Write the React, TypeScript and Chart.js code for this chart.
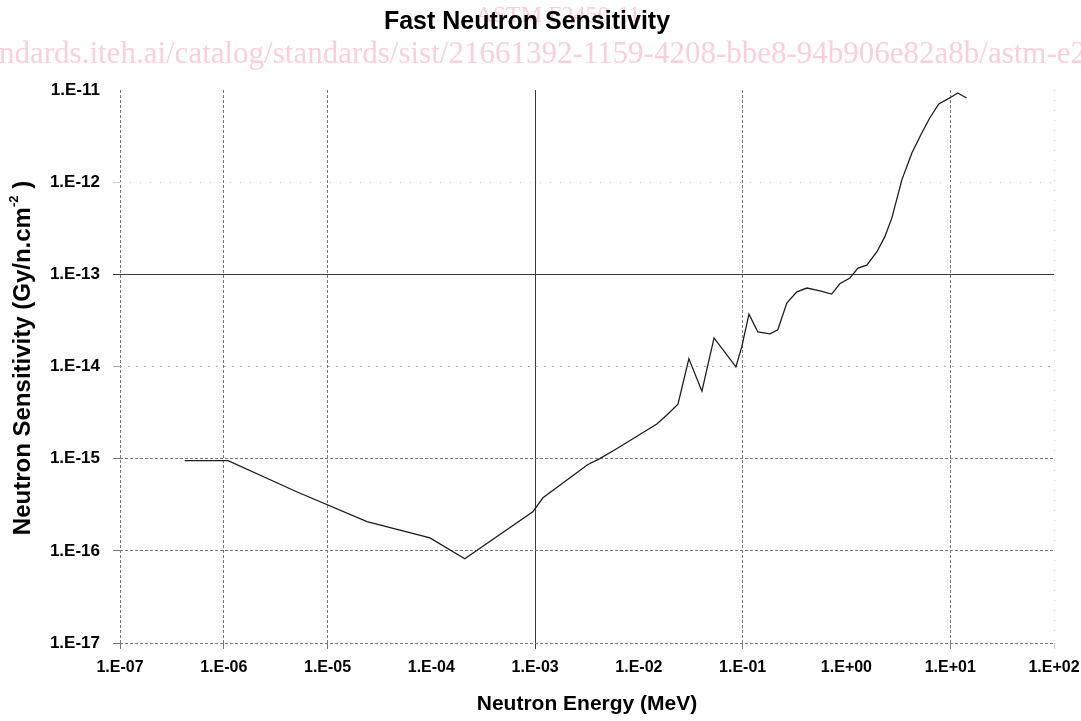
import React, { useEffect, useRef } from "react";
import { Chart, registerables } from "chart.js";

Chart.register(...registerables);

// ---- data ----
const energyMeV = [
  4.2e-7, 1.1e-6, 5.1e-6, 2.4e-5, 9.7e-5, 2.1e-4, 9.5e-4, 1.19e-3, 3.2e-3, 4.2e-3,
  6.1e-3, 1.49e-2, 1.86e-2, 2.38e-2, 3.03e-2, 4.05e-2, 5.3e-2, 8.6e-2, 0.098, 0.115,
  0.14, 0.183, 0.218, 0.267, 0.333, 0.416, 0.555, 0.72, 0.863, 1.08,
  1.29, 1.57, 1.96, 2.34, 2.74, 3.42, 4.27, 5.32, 6.35, 7.76,
  9.9, 11.8, 14.4,
];
const sensitivity = [
  9.5e-16, 9.5e-16, 4.35e-16, 2.07e-16, 1.38e-16, 8.2e-17, 2.65e-16, 3.76e-16, 8.6e-16, 1.0e-15,
  1.28e-15, 2.38e-15, 2.98e-15, 3.9e-15, 1.21e-14, 5.4e-15, 2.04e-14, 9.9e-15, 1.63e-14, 3.7e-14,
  2.37e-14, 2.26e-14, 2.5e-14, 4.9e-14, 6.46e-14, 7.1e-14, 6.6e-14, 6.1e-14, 7.9e-14, 9.1e-14,
  1.17e-13, 1.26e-13, 1.75e-13, 2.55e-13, 4.1e-13, 1.06e-12, 2.07e-12, 3.42e-12, 4.97e-12, 7.05e-12,
  8.2e-12, 9.3e-12, 8.2e-12,
];
const xTickValues = [1e-7, 1e-6, 1e-5, 1e-4, 1e-3, 1e-2, 1e-1, 1e0, 1e1, 1e2];
const yTickValues = [1e-17, 1e-16, 1e-15, 1e-14, 1e-13, 1e-12, 1e-11];

const chartTitle = "Fast Neutron Sensitivity";
const xTitle = "Neutron Energy (MeV)";
const yTitleMain = "Neutron Sensitivity (Gy/n.cm";
const yTitleSup = "-2";
const yTitleEnd = " )";
const watermarkTop = "ASTM F2450-11";
const watermarkUrl =
  "ndards.iteh.ai/catalog/standards/sist/21661392-1159-4208-bbe8-94b906e82a8b/astm-e2450-11";

// ---- styling ----
const SANS = "'Liberation Sans', Arial, sans-serif";
const SERIF = "'Liberation Serif', 'Times New Roman', serif";

const xGridKind: Record<number, string> = { [-7]: "dot", [-6]: "dot", [-5]: "dot", [-3]: "solid", [-1]: "dot", 1: "dot", 2: "faint" };
const yGridKind: Record<number, string> = { [-17]: "dot", [-16]: "dot", [-15]: "dot", [-14]: "sparse", [-13]: "solid", [-12]: "faint" };

const kindStyle: Record<string, { color: string; dash: number[] }> = {
  dot: { color: "#777777", dash: [3, 2] },
  sparse: { color: "#a8a8a8", dash: [2, 6] },
  faint: { color: "#cccccc", dash: [1, 9] },
  solid: { color: "#3a3a3a", dash: [] },
  none: { color: "rgba(0,0,0,0)", dash: [] },
};

const expOf = (v: number) => Math.round(Math.log10(v));
const fmt = (v: number) => {
  const e = expOf(v);
  return `1.E${e < 0 ? "-" : "+"}${String(Math.abs(e)).padStart(2, "0")}`;
};
const styleFor = (map: Record<number, string>, ctx: any) => {
  const v = ctx && ctx.tick ? ctx.tick.value : undefined;
  if (v === undefined) return kindStyle.none;
  return kindStyle[map[expOf(v)] || "none"];
};

const watermarkPlugin = {
  id: "watermark",
  beforeDraw(chart: any) {
    const ctx = chart.ctx;
    ctx.save();
    ctx.fillStyle = "#f7d0dc";
    ctx.textBaseline = "alphabetic";
    ctx.font = `31px ${SERIF}`;
    ctx.textAlign = "left";
    ctx.fillText(watermarkUrl, -1, 63);
    ctx.font = `24px ${SERIF}`;
    ctx.textAlign = "center";
    ctx.fillText(watermarkTop, 558, 22);
    ctx.restore();
  },
};

const yTitlePlugin = {
  id: "yTitle",
  afterDraw(chart: any) {
    const { ctx } = chart;
    ctx.save();
    ctx.translate(23, 358);
    ctx.rotate(-Math.PI / 2);
    ctx.fillStyle = "#000";
    ctx.textBaseline = "middle";
    ctx.textAlign = "left";
    const mainFont = `bold 24px ${SANS}`;
    const supFont = `bold 13px ${SANS}`;
    ctx.font = mainFont;
    const w1 = ctx.measureText(yTitleMain).width;
    const w3 = ctx.measureText(yTitleEnd).width;
    ctx.font = supFont;
    const w2 = ctx.measureText(yTitleSup).width;
    const x0 = -(w1 + w2 + w3) / 2;
    ctx.font = mainFont;
    ctx.fillText(yTitleMain, x0, 0);
    ctx.font = supFont;
    ctx.fillText(yTitleSup, x0 + w1, -9);
    ctx.font = mainFont;
    ctx.fillText(yTitleEnd, x0 + w1 + w2, 0);
    ctx.restore();
  },
};

export default function App() {
  const canvasRef = useRef<HTMLCanvasElement | null>(null);

  useEffect(() => {
    if (!canvasRef.current) return;
    const chart = new Chart(canvasRef.current, {
      type: "line",
      data: {
        datasets: [
          {
            data: energyMeV.map((x, i) => ({ x, y: sensitivity[i] })),
            borderColor: "#1c1c1c",
            borderWidth: 1.3,
            pointRadius: 0,
            tension: 0,
            fill: false,
          },
        ],
      },
      options: {
        animation: false,
        responsive: false,
        devicePixelRatio: 1,
        layout: { padding: { left: 0, right: 27, top: 0, bottom: 0 } },
        plugins: {
          legend: { display: false },
          tooltip: { enabled: false },
          title: {
            display: true,
            text: chartTitle,
            color: "#000",
            font: { family: SANS, size: 25, weight: "bold", lineHeight: 1.2 },
            padding: { top: 7, bottom: 53 },
          },
        },
        scales: {
          x: {
            type: "logarithmic",
            min: 1e-7,
            max: 1e2,
            afterBuildTicks: (scale: any) => {
              scale.ticks = xTickValues.map((value) => ({ value }));
            },
            afterFit: (scale: any) => {
              scale.height = 78;
              scale.paddingLeft = 0;
              scale.paddingRight = 0;
            },
            ticks: {
              autoSkip: false,
              maxRotation: 0,
              minRotation: 0,
              padding: 9,
              color: "#000",
              font: { family: SANS, size: 16, weight: "bold" },
              callback: (v: any) => fmt(Number(v)),
            },
            grid: {
              color: (ctx: any) => styleFor(xGridKind, ctx).color,
              tickColor: (ctx: any) => styleFor(xGridKind, ctx).color,
              lineWidth: 1,
              tickLength: 6,
            },
            border: {
              display: false,
              dash: (ctx: any) => styleFor(xGridKind, ctx).dash,
            },
            title: {
              display: true,
              text: xTitle,
              color: "#000",
              font: { family: SANS, size: 21, weight: "bold", lineHeight: 1.2 },
              padding: { top: 0, bottom: 4 },
            },
          },
          y: {
            type: "logarithmic",
            min: 1e-17,
            max: 1e-11,
            afterBuildTicks: (scale: any) => {
              scale.ticks = yTickValues.map((value) => ({ value }));
            },
            afterFit: (scale: any) => {
              scale.width = 120;
            },
            ticks: {
              autoSkip: false,
              padding: 13,
              color: "#000",
              font: { family: SANS, size: 17, weight: "bold" },
              callback: (v: any) => fmt(Number(v)),
            },
            grid: {
              color: (ctx: any) => styleFor(yGridKind, ctx).color,
              tickColor: (ctx: any) => styleFor(yGridKind, ctx).color,
              lineWidth: 1,
              tickLength: 7,
            },
            border: {
              display: false,
              dash: (ctx: any) => styleFor(yGridKind, ctx).dash,
            },
            title: { display: false },
          },
        },
      } as any,
      plugins: [watermarkPlugin, yTitlePlugin],
    });
    return () => chart.destroy();
  }, []);

  return (
    <div style={{ position: "fixed", left: 0, top: 0, width: 1081, height: 721, background: "#fff" }}>
      <canvas ref={canvasRef} width={1081} height={721} style={{ display: "block", width: 1081, height: 721 }} />
    </div>
  );
}
